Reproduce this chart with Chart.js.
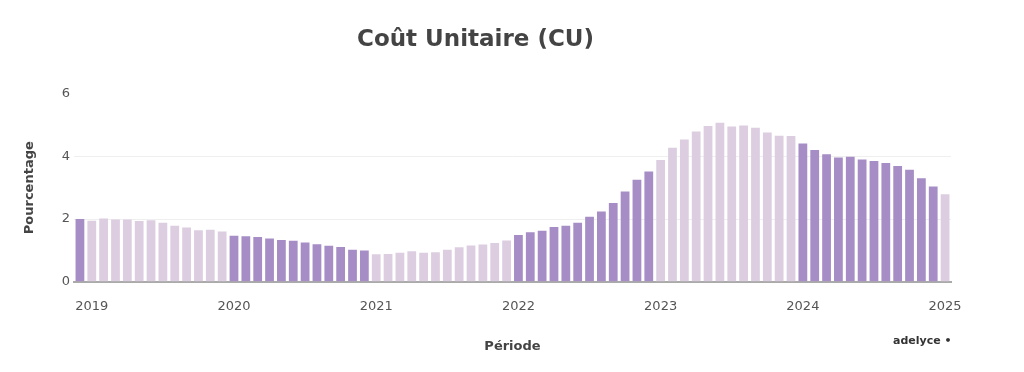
<!DOCTYPE html>
<html>
<head>
<meta charset="utf-8">
<script src="https://cdn.jsdelivr.net/npm/chart.js@4.4.1/dist/chart.umd.min.js"></script>
<style>
  body { margin: 0; background: #fff; }
  #wrap { position: relative; width: 1024px; height: 372px; }
  #brand {
    position: absolute; left: 893px; top: 334px;
    font: bold 11px "DejaVu Sans", sans-serif; color: #333;
  }
</style>
</head>
<body>
<div id="wrap">
  <canvas id="cu" width="1024" height="372"></canvas>
  <div id="brand">adelyce •</div>
</div>
<script>
const months = [
  "2018-12",
  "2019-01", "2019-02", "2019-03", "2019-04", "2019-05", "2019-06",
  "2019-07", "2019-08", "2019-09", "2019-10", "2019-11", "2019-12",
  "2020-01", "2020-02", "2020-03", "2020-04", "2020-05", "2020-06",
  "2020-07", "2020-08", "2020-09", "2020-10", "2020-11", "2020-12",
  "2021-01", "2021-02", "2021-03", "2021-04", "2021-05", "2021-06",
  "2021-07", "2021-08", "2021-09", "2021-10", "2021-11", "2021-12",
  "2022-01", "2022-02", "2022-03", "2022-04", "2022-05", "2022-06",
  "2022-07", "2022-08", "2022-09", "2022-10", "2022-11", "2022-12",
  "2023-01", "2023-02", "2023-03", "2023-04", "2023-05", "2023-06",
  "2023-07", "2023-08", "2023-09", "2023-10", "2023-11", "2023-12",
  "2024-01", "2024-02", "2024-03", "2024-04", "2024-05", "2024-06",
  "2024-07", "2024-08", "2024-09", "2024-10", "2024-11", "2024-12",
  "2025-01"
];

// coût unitaire, en %
const cu = [
  2.00,
  1.95, 2.02, 1.99, 1.99, 1.94, 1.96, 1.88, 1.79, 1.73, 1.64, 1.66, 1.60,
  1.47, 1.45, 1.43, 1.38, 1.33, 1.31, 1.25, 1.20, 1.15, 1.11, 1.02, 1.00,
  0.88, 0.89, 0.93, 0.97, 0.93, 0.94, 1.02, 1.10, 1.16, 1.19, 1.24, 1.32,
  1.49, 1.58, 1.63, 1.75, 1.79, 1.88, 2.07, 2.24, 2.51, 2.88, 3.25, 3.52,
  3.88, 4.27, 4.54, 4.79, 4.97, 5.07, 4.95, 4.98, 4.91, 4.76, 4.66, 4.65,
  4.41, 4.20, 4.07, 3.96, 3.99, 3.90, 3.85, 3.79, 3.69, 3.57, 3.30, 3.04,
  2.79
];

const yTicks = [0, 2, 4, 6];

const dark = "#a68dc5";
const light = "#dccee0";
const font = "'DejaVu Sans', sans-serif";

// une couleur par année, en alternance
const colors = months.map(m => (parseInt(m.slice(0, 4)) % 2 === 0 ? dark : light));

new Chart(document.getElementById("cu"), {
  type: "bar",
  data: {
    labels: months,
    datasets: [
      {
        data: cu,
        backgroundColor: colors,
        categoryPercentage: 1,
        barPercentage: 0.74,
      },
    ],
  },
  options: {
    responsive: false,
    animation: false,
    layout: { padding: { left: 0, right: 73, top: 0, bottom: 12 } },
    plugins: {
      legend: { display: false },
      tooltip: { enabled: false },
      title: {
        display: true,
        text: "Coût Unitaire (CU)",
        color: "#444",
        font: { family: font, size: 23, weight: "bold" },
        padding: { top: 26, bottom: 40 },
      },
    },
    scales: {
      x: {
        grid: { display: false, drawTicks: false },
        border: { color: "#aaa", width: 2 },
        ticks: {
          autoSkip: false,
          maxRotation: 0,
          color: "#555",
          padding: 17,
          font: { family: font, size: 13 },
          callback: function (v, i) {
            const m = months[i];
            return m.slice(5) === "01" ? m.slice(0, 4) : "";
          },
        },
        title: {
          display: true,
          text: "Période",
          color: "#444",
          font: { family: font, size: 13, weight: "bold" },
          padding: { top: 7, bottom: 6 },
        },
      },
      y: {
        min: 0,
        max: 6,
        afterBuildTicks: function (scale) {
          scale.ticks = yTicks.map(v => ({ value: v }));
        },
        afterFit: function (scale) {
          scale.width = 74;
        },
        grid: {
          drawTicks: false,
          color: ctx => (ctx.tick.value === 2 || ctx.tick.value === 4 ? "#efefef" : "rgba(0,0,0,0)"),
        },
        border: { display: false },
        ticks: {
          color: "#555",
          padding: 4,
          font: { family: font, size: 13 },
        },
        title: {
          display: true,
          text: "Pourcentage",
          color: "#444",
          font: { family: font, size: 13, weight: "bold" },
          padding: { top: 22, bottom: 0 },
        },
      },
    },
  },
});
</script>
</body>
</html>
